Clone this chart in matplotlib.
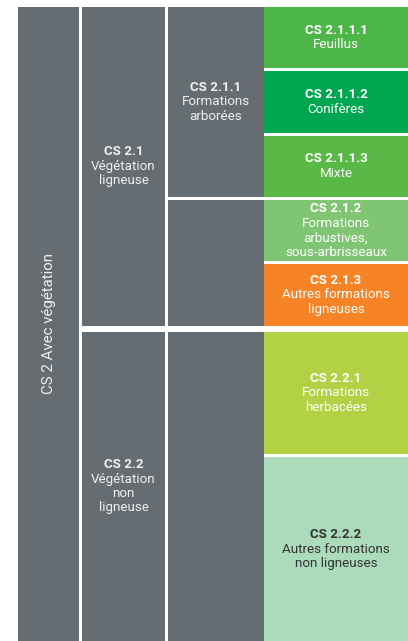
import matplotlib
matplotlib.use("Agg")
import matplotlib.pyplot as plt
from matplotlib.patches import Rectangle

# ---------------- data ----------------
root_code = "CS 2"
root_name = "Avec végétation"

level2_codes = ["CS 2.1", "CS 2.2"]
level2_names = ["Végétation\nligneuse", "Végétation\nnon\nligneuse"]
level2_leaves = [(0, 5), (5, 7)]          # leaf index ranges

level3_codes = ["CS 2.1.1", "", ""]
level3_names = ["Formations\narborées", "", ""]
level3_leaves = [(0, 3), (3, 5), (5, 7)]

leaf_codes = ["CS 2.1.1.1", "CS 2.1.1.2", "CS 2.1.1.3", "CS 2.1.2",
              "CS 2.1.3", "CS 2.2.1", "CS 2.2.2"]
leaf_names = ["Feuillus", "Conifères", "Mixte",
              "Formations\narbustives,\nsous-arbrisseaux",
              "Autres formations\nligneuses",
              "Formations\nherbacées",
              "Autres formations\nnon ligneuses"]
leaf_rows = [1, 1, 1, 1, 1, 2, 3]
leaf_group = [0, 0, 0, 0, 0, 1, 1]

# ---------------- style ----------------
W, H = 408, 641
GREY = "#656d72"
leaf_colors = ["#4cb748", "#00a650", "#5ab946", "#80c574",
               "#f68426", "#b2d145", "#acdbbc"]
leaf_text = ["white"] * 6 + ["#333333"]
grey_text = "#eef0f1"

plt.rcParams['font.family'] = ['Roboto', 'DejaVu Sans']
FS = 9.6
LINE = 14.5

fig = plt.figure(figsize=(W / 100, H / 100), dpi=100)
ax = fig.add_axes([0, 0, 1, 1])
ax.set_xlim(0, W)
ax.set_ylim(H, 0)
ax.axis("off")

top, bottom = 7, H
small_gap, big_gap = 3, 6
cols = [(18, 79), (82, 165), (168, 264), (264, W)]

# leaf layout
n_small = sum(1 for i in range(1, len(leaf_rows)) if leaf_group[i] == leaf_group[i - 1])
n_big = len(leaf_rows) - 1 - n_small
unit = (bottom - top - n_small * small_gap - n_big * big_gap) / sum(leaf_rows)
ys = []
y = top
for i, r in enumerate(leaf_rows):
    if i > 0:
        y += small_gap if leaf_group[i] == leaf_group[i - 1] else big_gap
    ys.append((y, y + r * unit))
    y += r * unit


def block(x0, x1, y0, y1, color):
    ax.add_patch(Rectangle((x0, y0), x1 - x0, y1 - y0, facecolor=color,
                           edgecolor="none"))


def label(xc, yc, code, name, color):
    lines = [code] + (name.split("\n") if name else [])
    n = len(lines)
    for k, ln in enumerate(lines):
        yy = yc + (k - (n - 1) / 2) * LINE
        ax.text(xc, yy, ln, ha="center", va="center", fontsize=FS,
                color=color, fontweight="bold" if k == 0 else "normal")


# level 1
x0, x1 = cols[0]
block(x0, x1, top, bottom, GREY)
ax.text((x0 + x1) / 2 + 1, (top + bottom) / 2, f"{root_code} {root_name}",
        rotation=90, ha="center", va="center", fontsize=10.8,
        color=grey_text, fontweight="normal")

# level 2
x0, x1 = cols[1]
for code, name, (a, b) in zip(level2_codes, level2_names, level2_leaves):
    y0, y1 = ys[a][0], ys[b - 1][1]
    block(x0, x1, y0, y1, GREY)
    label((x0 + x1) / 2, (y0 + y1) / 2, code, name, grey_text)

# level 3
x0, x1 = cols[2]
for code, name, (a, b) in zip(level3_codes, level3_names, level3_leaves):
    y0, y1 = ys[a][0], ys[b - 1][1]
    block(x0, x1, y0, y1, GREY)
    if code:
        label((x0 + x1) / 2, (y0 + y1) / 2, code, name, grey_text)

# leaves
x0, x1 = cols[3]
for i, (code, name) in enumerate(zip(leaf_codes, leaf_names)):
    y0, y1 = ys[i]
    block(x0, x1, y0, y1, leaf_colors[i])
    label((x0 + x1) / 2, (y0 + y1) / 2, code, name, leaf_text[i])

fig.savefig("out.png", dpi=100)
